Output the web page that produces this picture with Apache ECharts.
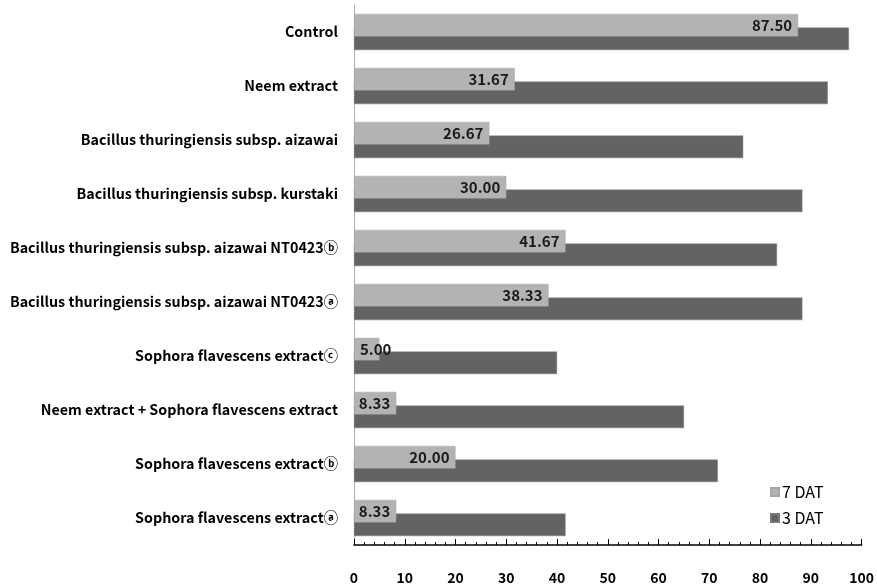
<!DOCTYPE html>
<html>
<head>
<meta charset="utf-8">
<script src="https://cdn.jsdelivr.net/npm/echarts@6/dist/echarts.min.js"></script>
<style>
  html, body { margin: 0; padding: 0; background: #fff; }
  #chart { width: 877px; height: 585px; }
</style>
</head>
<body>
<div id="chart"></div>
<script>
// Treatments, listed bottom to top along the category axis
const categories = [
  'Sophora flavescens extract\u24D0',
  'Sophora flavescens extract\u24D1',
  'Neem extract + Sophora flavescens extract',
  'Sophora flavescens extract\u24D2',
  'Bacillus thuringiensis subsp. aizawai NT0423\u24D0',
  'Bacillus thuringiensis subsp. aizawai NT0423\u24D1',
  'Bacillus thuringiensis subsp. kurstaki',
  'Bacillus thuringiensis subsp. aizawai',
  'Neem extract',
  'Control'
];

// Values at 7 days after treatment
const dat7 = [8.33, 20.00, 8.33, 5.00, 38.33, 41.67, 30.00, 26.67, 31.67, 87.50];

// Values at 3 days after treatment
const dat3 = [41.67, 71.67, 65.00, 40.00, 88.33, 83.33, 88.33, 76.67, 93.33, 97.50];

const xTicks = [0, 10, 20, 30, 40, 50, 60, 70, 80, 90, 100];

const FONT = '"Noto Sans CJK KR", "Noto Sans", sans-serif';

const chart = echarts.init(document.getElementById('chart'));

chart.setOption({
  animation: false,
  backgroundColor: '#ffffff',
  grid: { left: 354, right: 14, top: 5, bottom: 40, containLabel: false },
  legend: {
    data: ['7 DAT', '3 DAT'],
    orient: 'vertical',
    left: 765,
    top: 479,
    itemWidth: 8,
    itemHeight: 8,
    itemGap: 10,
    icon: 'rect',
    textStyle: { fontFamily: FONT, fontSize: 16, color: '#000', padding: [0, 0, 0, -2] }
  },
  xAxis: {
    type: 'value',
    min: xTicks[0],
    max: xTicks[xTicks.length - 1],
    interval: 10,
    axisLine: { show: true, lineStyle: { color: '#000', width: 1.5 } },
    axisTick: { show: true, inside: true, length: 6, lineStyle: { color: '#000', width: 1 } },
    minorTick: { show: true, splitNumber: 5, length: 3, lineStyle: { color: '#000', width: 1 } },
    splitLine: { show: false },
    minorSplitLine: { show: false },
    axisLabel: {
      margin: 26,
      fontFamily: FONT,
      fontSize: 14,
      fontWeight: 'bold',
      color: '#000'
    }
  },
  yAxis: {
    type: 'category',
    data: categories,
    axisLine: { show: true, lineStyle: { color: '#b0b0b0', width: 1 } },
    axisTick: { show: false },
    axisLabel: {
      interval: 0,
      margin: 16,
      fontFamily: FONT,
      fontSize: 14.3,
      fontWeight: 'bold',
      color: '#000'
    }
  },
  series: [
    {
      name: '7 DAT',
      type: 'bar',
      z: 3,
      barWidth: 22.5,
      barGap: '-39%',
      itemStyle: { color: '#b3b3b3', borderColor: '#a6a6a6', borderWidth: 0.5 },
      data: dat7.map(v => ({
        value: v,
        label: { position: v < 8 ? 'insideLeft' : 'insideRight' }
      })),
      label: {
        show: true,
        distance: 6,
        fontFamily: FONT,
        fontSize: 15,
        fontWeight: 'bold',
        color: '#1a1a1a',
        formatter: p => p.value.toFixed(2)
      }
    },
    {
      name: '3 DAT',
      type: 'bar',
      z: 2,
      barWidth: 22.5,
      barGap: '-39%',
      itemStyle: { color: '#636363', borderColor: '#7a7a7a', borderWidth: 0.5 },
      data: dat3
    }
  ]
});
</script>
</body>
</html>
